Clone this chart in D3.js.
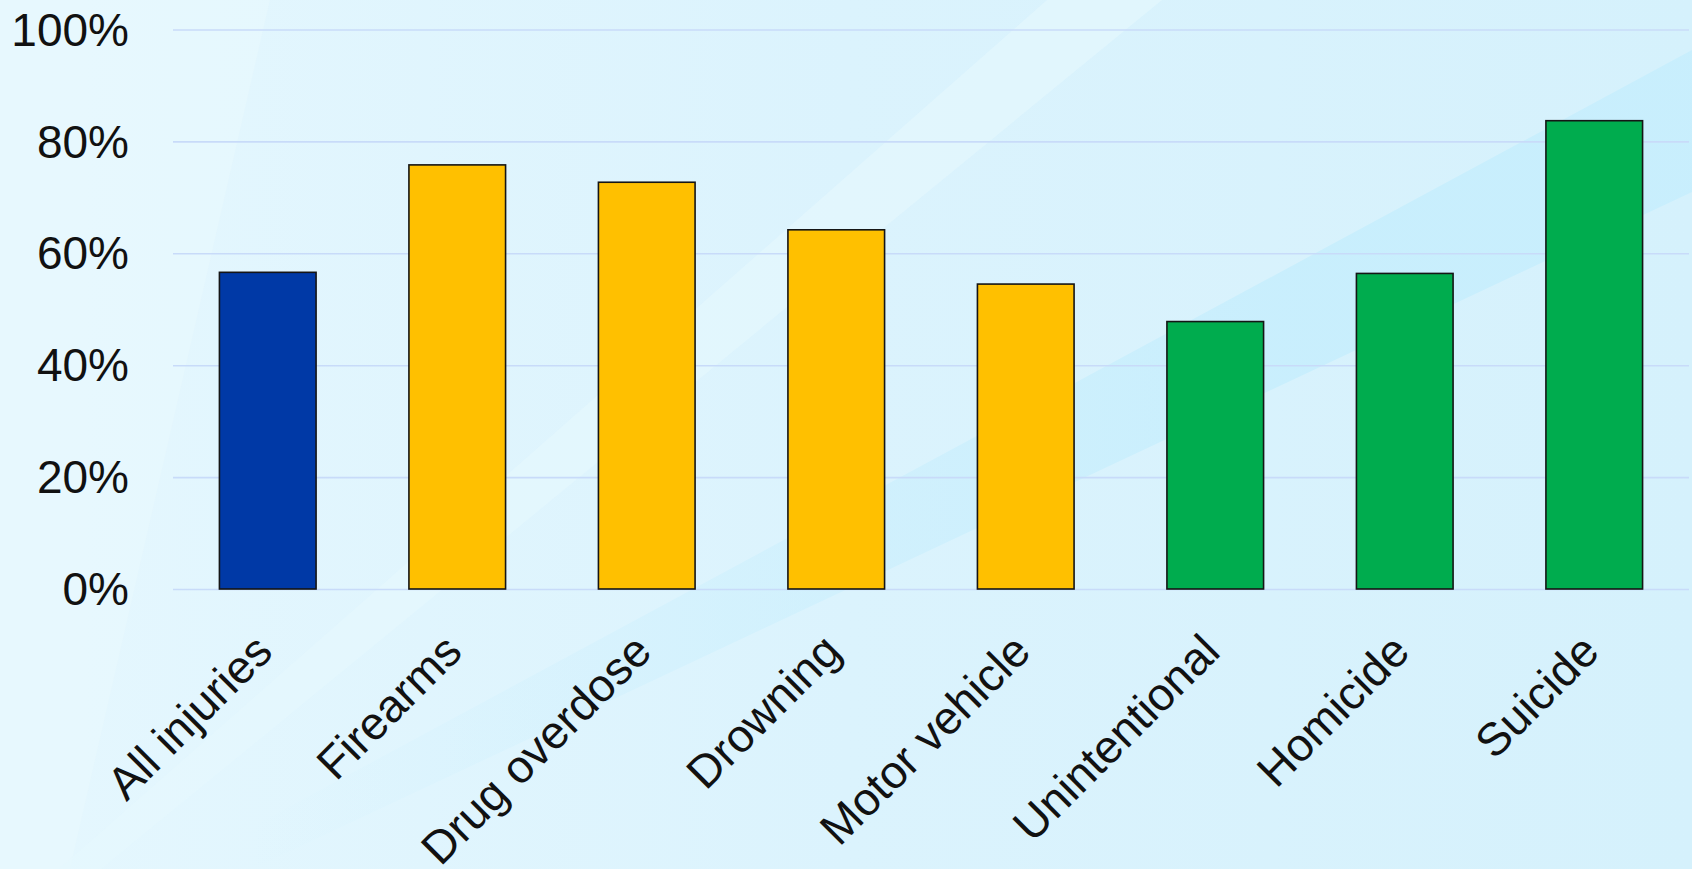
<!DOCTYPE html>
<html>
<head>
<meta charset="utf-8">
<script src="https://cdn.jsdelivr.net/npm/d3@7"></script>
<style>
  html, body { margin: 0; padding: 0; overflow: hidden; }
  svg { display: block; font-family: "Liberation Sans", Arial, sans-serif; }
</style>
</head>
<body>
<svg id="chart" width="1692" height="869"></svg>
<script>
const categories = ["All injuries", "Firearms", "Drug overdose", "Drowning", "Motor vehicle", "Unintentional", "Homicide", "Suicide"];
const values = [56.6, 75.8, 72.7, 64.2, 54.5, 47.8, 56.4, 83.7];
const groups = ["all", "mechanism", "mechanism", "mechanism", "mechanism", "intent", "intent", "intent"];
const yTicks = [0, 20, 40, 60, 80, 100];

const WIDTH = 1692;
const HEIGHT = 869;
const plot = { left: 173, right: 1689, top: 29.5, bottom: 589 };

const groupColor = d3.scaleOrdinal()
  .domain(["all", "mechanism", "intent"])
  .range(["#0039a6", "#ffc000", "#00ac4e"]);

const svg = d3.select("#chart");

// background: soft blue with diagonal streaks
const defs = svg.append("defs");
const bg = defs.append("linearGradient").attr("id", "bg").attr("x1", "0%").attr("x2", "100%").attr("y1", "0%").attr("y2", "0%");
bg.append("stop").attr("offset", "0%").attr("stop-color", "#e5f7fe");
bg.append("stop").attr("offset", "50%").attr("stop-color", "#dbf3fd");
bg.append("stop").attr("offset", "100%").attr("stop-color", "#d5f1fc");

const band = defs.append("linearGradient").attr("id", "band")
  .attr("gradientUnits", "userSpaceOnUse")
  .attr("x1", 250).attr("x2", 1300).attr("y1", 0).attr("y2", 0);
band.append("stop").attr("offset", "0%").attr("stop-color", "#c7eefd").attr("stop-opacity", 0);
band.append("stop").attr("offset", "100%").attr("stop-color", "#c7eefd").attr("stop-opacity", 0.9);

svg.append("rect").attr("width", WIDTH).attr("height", HEIGHT).attr("fill", "url(#bg)");

const line = d3.line();
svg.append("path")
  .attr("d", line([[0, 869], [0, 0], [270, 0], [70, 869]]) + "Z")
  .attr("fill", "#eaf9fe").attr("opacity", 0.5);
svg.append("path")
  .attr("d", line([[59, 869], [1047, 0], [1162, 0], [101, 869]]) + "Z")
  .attr("fill", "#e6f8fe").attr("opacity", 0.6);
svg.append("path")
  .attr("d", line([[174, 869], [1692, 50], [1692, 192], [252, 869]]) + "Z")
  .attr("fill", "url(#band)");

const x = d3.scaleBand()
  .domain(categories)
  .range([plot.left, plot.right])
  .paddingInner(0.49)
  .paddingOuter(0.245);

const y = d3.scaleLinear()
  .domain([0, 100])
  .range([plot.bottom, plot.top]);

// gridlines + y labels
const yAxis = svg.append("g")
  .attr("transform", `translate(${plot.left},0)`)
  .call(d3.axisLeft(y)
    .tickValues(yTicks)
    .tickSizeInner(-(plot.right - plot.left))
    .tickSizeOuter(0)
    .tickPadding(44)
    .tickFormat((d) => `${d}%`));

yAxis.select(".domain").remove();
yAxis.selectAll(".tick line").attr("stroke", "#c8dbf9").attr("stroke-width", 1.6);
yAxis.selectAll(".tick text")
  .attr("fill", "#111")
  .attr("font-size", 46)
  .attr("dy", "0.34em");

// bars
svg.append("g")
  .selectAll("rect")
  .data(categories)
  .join("rect")
  .attr("x", (d) => x(d))
  .attr("y", (d, i) => y(values[i]))
  .attr("width", x.bandwidth())
  .attr("height", (d, i) => y(0) - y(values[i]))
  .attr("fill", (d, i) => groupColor(groups[i]))
  .attr("stroke", "#151515")
  .attr("stroke-width", 1.6);

// x labels
const xAxis = svg.append("g")
  .attr("transform", `translate(0,${plot.bottom})`)
  .call(d3.axisBottom(x).tickSize(0));

xAxis.select(".domain").remove();
xAxis.selectAll(".tick text")
  .attr("fill", "#111")
  .attr("font-size", 46)
  .attr("text-anchor", "end")
  .attr("y", 0)
  .attr("dy", 0)
  .attr("transform", "translate(7,65) rotate(-45)");
</script>
</body>
</html>
